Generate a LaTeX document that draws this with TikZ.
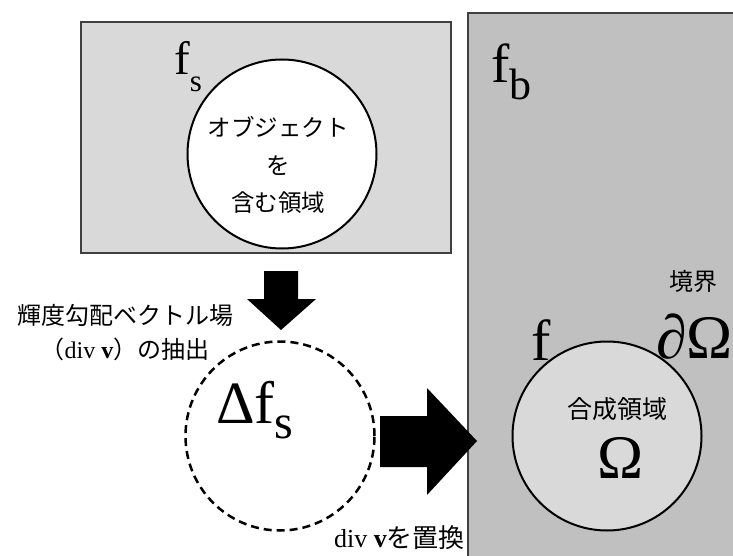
\documentclass[tikz,border=0pt]{standalone}
\usepackage{fontspec}
\setmainfont{Liberation Serif}
\newfontfamily\jp{Noto Sans CJK JP}
\definecolor{lightbg}{HTML}{D9D9D9}
\definecolor{darkbg}{HTML}{C0C0C0}
\definecolor{edge}{HTML}{404040}
\begin{document}
\begin{tikzpicture}[x=1pt,y=-1pt,
  boxarea/.style={draw=edge,line width=1.3pt},
  region/.style={circle,draw=black,line width=2pt,minimum size=189pt,inner sep=0pt},
  jptext/.style={font=\jp\fontsize{24}{34}\selectfont,align=center,inner sep=0pt},
  sym/.style={inner sep=0pt,anchor=base west},
  blockarrow/.style={fill=black}]
\useasboundingbox (0,0) rectangle (733,556);
\clip (0,0) rectangle (733,556);
% background boxes
\draw[boxarea,fill=lightbg] (81,22) rectangle (451,253);
\draw[boxarea,fill=darkbg] (468,13) rectangle (740,570);
% circles
\node[region,fill=white] (src) at (282,154) {};
\node[region,dashed,dash pattern=on 8pt off 5pt,line width=2.5pt] (grad) at (280,436) {};
\node[region,fill=lightbg] (dst) at (607,436) {};
% texts
\node[jptext,font=\jp\fontsize{23.5}{37.5}\selectfont] (srctxt) at (278,165) {オブジェクト\\を\\含む領域};
\node[sym,font=\rmfamily\fontsize{47}{47}\selectfont] (fs) at (174,75) {f\raisebox{-17pt}{\fontsize{31}{31}\selectfont s}};
\node[sym,font=\rmfamily\fontsize{55}{55}\selectfont] (fb) at (491,83) {f\raisebox{-17pt}{\fontsize{44}{44}\selectfont b}};
\node[jptext] (extract) at (125,333) {輝度勾配ベクトル場\\（{\rmfamily div \textbf{v}}）の抽出};
\node[sym,font=\rmfamily\fontsize{60}{60}\selectfont] (dfs) at (216,423) {Δf\raisebox{-15pt}{\fontsize{48}{48}\selectfont s}};
\node[jptext,font=\jp\fontsize{26}{26}\selectfont,anchor=base west] (replace) at (334,547) {{\rmfamily div \textbf{v}}を置換};
\node[jptext] (bnd) at (693,281) {境界};
\node[sym,font=\rmfamily\fontsize{62}{62}\selectfont] (dOmega) at (656,358) {{\itshape ∂}Ω};
\node[sym,font=\rmfamily\fontsize{58}{58}\selectfont] (f) at (531,360) {f};
\node[jptext,font=\jp\fontsize{25}{25}\selectfont] (comp) at (617,409) {合成領域};
\node[sym,font=\rmfamily\fontsize{62}{62}\selectfont,anchor=center] (Omega) at (621,458) {Ω};
% block arrows
\fill[blockarrow] (264,271) -- (298,271) -- (298,299) -- (316,299) -- (281,330) -- (247,299) -- (264,299) -- cycle;
\fill[blockarrow] (380,416) -- (427,416) -- (427,388) -- (477,441) -- (427,495) -- (427,467) -- (380,467) -- cycle;
\end{tikzpicture}
\end{document}
